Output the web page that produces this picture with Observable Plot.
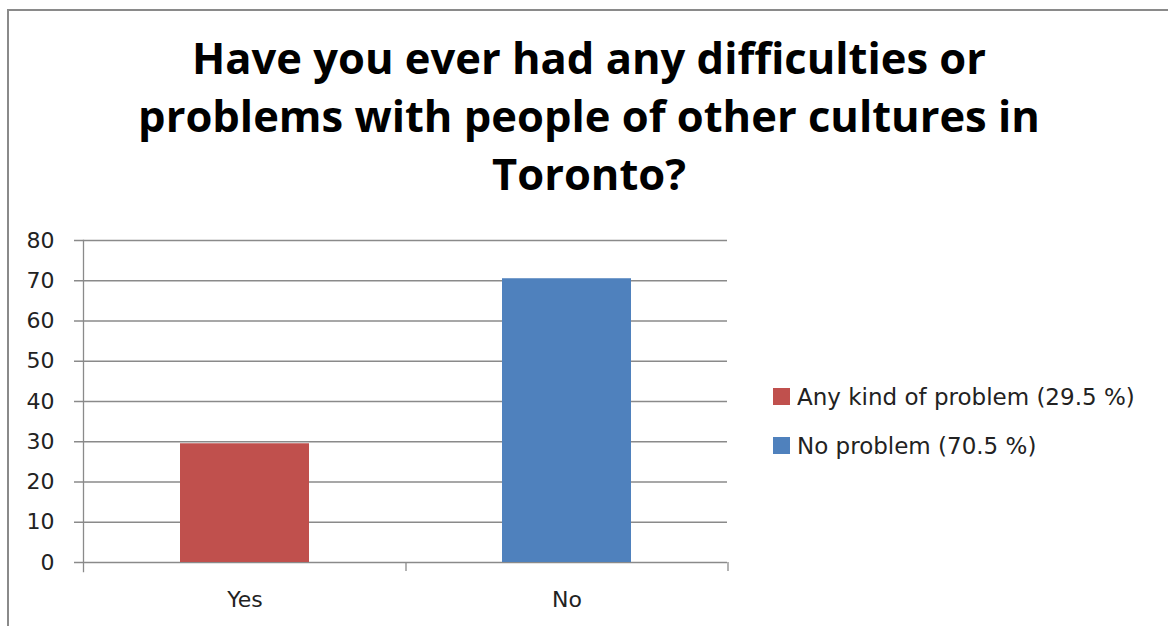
<!DOCTYPE html>
<html>
<head>
<meta charset="utf-8">
<script src="https://cdn.jsdelivr.net/npm/d3@7"></script>
<script src="https://cdn.jsdelivr.net/npm/@observablehq/plot@0.6"></script>
<style>
  html, body { margin: 0; padding: 0; background: #fff; width: 1168px; height: 626px; overflow: hidden; }
  #frame { position: absolute; left: 7px; top: 9px; width: 1200px; height: 700px; border: 2px solid #8a8a8a; box-sizing: border-box; }
  #title { position: absolute; left: 0; top: 29px; width: 1178px; text-align: center;
           font-family: "Open Sans", Lato, sans-serif; font-weight: bold; font-size: 43.5px; line-height: 58px; color: #000; }
  #chart { position: absolute; left: 0; top: 200px; }
  #legend { position: absolute; left: 773px; top: 372px; }
  #legend, #legend * { font-family: "DejaVu Sans", sans-serif; font-size: 23px; color: #222; }
  #legend .lg-swatch { height: 49px !important; padding-bottom: 0 !important; display: flex !important; align-items: center !important; margin: 0 !important; }
  #legend .lg-swatch svg { margin-right: 7px !important; }
</style>
</head>
<body>
<div id="frame"></div>
<div id="title">Have you ever had any difficulties or<br>problems with people of other cultures in<br>Toronto?</div>
<div id="chart"></div>
<div id="legend"></div>
<script>
const categories = ["Yes", "No"];
const values = [29.5, 70.5];
const series = ["Any kind of problem (29.5 %)", "No problem (70.5 %)"];
const colors = ["#C0504D", "#4F81BD"];
const yTicks = [0, 10, 20, 30, 40, 50, 60, 70, 80];

const data = categories.map((c, i) => ({category: c, value: values[i], series: series[i]}));

const W = 760, H = 420, mL = 83, mR = 33, mT = 40, mB = 58;
const step = (W - mL - mR) / categories.length;
const grey = "#8a8a8a";
const font = "\"DejaVu Sans\", sans-serif";

const chart = Plot.plot({
  width: W, height: H,
  marginLeft: mL, marginRight: mR, marginTop: mT, marginBottom: mB,
  style: {fontFamily: font, fontSize: "22px", color: "#222", background: "transparent", overflow: "visible"},
  x: {type: "band", domain: categories, paddingInner: 0.6, paddingOuter: 0.3, label: null},
  y: {domain: [0, 80], label: null},
  color: {domain: series, range: colors},
  marks: [
    Plot.ruleY(yTicks, {y: d => d, stroke: grey, strokeWidth: 1.3, strokeOpacity: 1, insetLeft: -9}),
    Plot.barY(data, {x: "category", y: "value", fill: "series"}),
    Plot.frame({anchor: "left", stroke: grey, strokeWidth: 1.3, insetBottom: -9}),
    Plot.ruleX(categories, {x: d => d, dx: step / 2, y1: 0, y2: 0, insetBottom: -9, stroke: grey, strokeWidth: 1.3}),
    Plot.axisY(yTicks, {tickSize: 0, tickPadding: 29, fontSize: 22, fill: "#222"}),
    Plot.axisX(categories, {tickSize: 0, tickPadding: 29, fontSize: 22, fill: "#222"})
  ]
});
document.getElementById("chart").appendChild(chart);

const legend = Plot.legend({
  color: {domain: series, range: colors},
  legend: "swatches",
  columns: 1,
  swatchSize: 17,
  className: "lg",
  style: {fontFamily: font, fontSize: "23px", color: "#222"}
});
document.getElementById("legend").appendChild(legend);
</script>
</body>
</html>
